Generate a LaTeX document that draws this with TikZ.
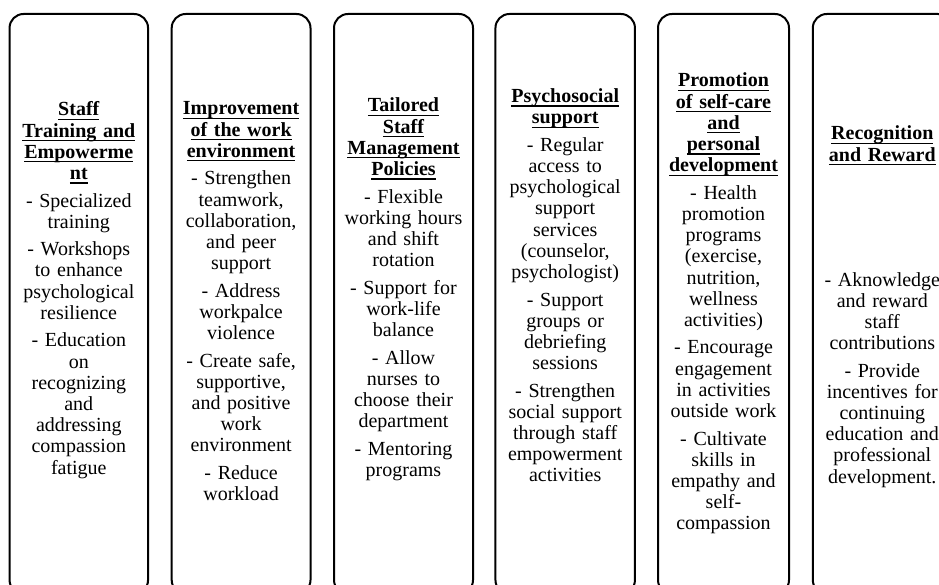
\documentclass[tikz,border=0pt]{standalone}
\usepackage{fontspec}
\setmainfont{Liberation Serif}[Ligatures=NoCommon]

% bold, underlined heading line
\newcommand\hdl[1]{\leavevmode\setbox0\hbox{\bfseries #1}\rlap{\rule[-4pt]{\wd0}{1.2pt}}\box0}
% space between the points of a column
\newcommand\itemgap{\par\vspace{6.3pt}}

\tikzset{
  colbox/.style={draw=black, line width=2pt, rounded corners=14pt,
    minimum height=580pt, inner sep=0pt},
  coltext/.style={anchor=base, align=center, text width=170pt, inner sep=0pt,
    font=\fontsize{20pt}{21.2pt}\selectfont}
}

\begin{document}
\begin{tikzpicture}[x=1pt, y=-1pt]
\useasboundingbox (0,0) rectangle (939,585);

% column frames
\node[colbox, minimum width=138.5pt] (b1) at (78.8,304) {};
\node[colbox, minimum width=138.8pt] (b2) at (241.1,304) {};
\node[colbox, minimum width=139pt]   (b3) at (403.5,304) {};
\node[colbox, minimum width=139.5pt] (b4) at (565.2,304) {};
\node[colbox, minimum width=131pt]   (b5) at (723.5,304) {};
\node[colbox, minimum width=139pt]   (b6) at (882.3,304) {};

% column texts
\node[coltext] (t1) at (78.8,116) {%
\hdl{Staff}\\\hdl{Training and}\\\hdl{Empowerme}\\\hdl{nt}\itemgap
- Specialized\\training\itemgap
- Workshops\\to enhance\\psychological\\resilience\itemgap
- Education\\on\\recognizing\\and\\addressing\\compassion\\fatigue};

\node[coltext] (t2) at (241.1,115) {%
\hdl{Improvement}\\\hdl{of the work}\\\hdl{environment}\itemgap
- Strengthen\\teamwork,\\collaboration,\\and peer\\support\itemgap
- Address\\workpalce\\violence\itemgap
- Create safe,\\supportive,\\and positive\\work\\environment\itemgap
- Reduce\\workload};

\node[coltext] (t3) at (403.5,112) {%
\hdl{Tailored}\\\hdl{Staff}\\\hdl{Management}\\\hdl{Policies}\itemgap
- Flexible\\working hours\\and shift\\rotation\itemgap
- Support for\\work-life\\balance\itemgap
- Allow\\nurses to\\choose their\\department\itemgap
- Mentoring\\programs};

\node[coltext] (t4) at (565.2,102.7) {%
\hdl{Psychosocial}\\\hdl{support}\itemgap
- Regular\\access to\\psychological\\support\\services\\(counselor,\\psychologist)\itemgap
- Support\\groups or\\debriefing\\sessions\itemgap
- Strengthen\\social support\\through staff\\empowerment\\activities};

\node[coltext] (t5) at (723.5,87) {%
\hdl{Promotion}\\\hdl{of self-care}\\\hdl{and}\\\hdl{personal}\\\hdl{development}\itemgap
- Health\\promotion\\programs\\(exercise,\\nutrition,\\wellness\\activities)\itemgap
- Encourage\\engagement\\in activities\\outside work\itemgap
- Cultivate\\skills in\\empathy and\\self-\\compassion};

\node[coltext] (t6h) at (882.3,140) {%
\hdl{Recognition}\\\hdl{and Reward}};

\node[coltext] (t6b) at (882.3,286) {%
- Aknowledge\\and reward\\staff\\contributions\itemgap
- Provide\\incentives for\\continuing\\education and\\professional\\development.};
\end{tikzpicture}
\end{document}
